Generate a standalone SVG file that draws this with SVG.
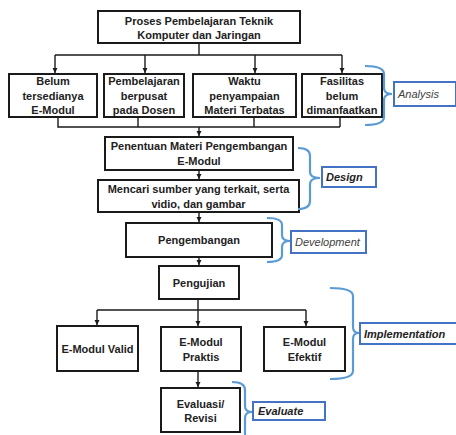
<svg xmlns="http://www.w3.org/2000/svg" width="456" height="435" viewBox="0 0 456 435">
<style>
.box{fill:#fff;stroke:#1a1a1a;stroke-width:2}
.t{font-family:"Liberation Sans",Arial,sans-serif;font-size:11px;font-weight:bold;fill:#222;text-anchor:middle}
.c{fill:none;stroke:#1a1a1a;stroke-width:1.4}
.br{fill:none;stroke:#5b9bd5;stroke-width:2.2}
.lb{fill:#fff;stroke:#4472c4;stroke-width:2}
.lt{font-family:"Liberation Sans",Arial,sans-serif;font-size:11px;font-style:italic;fill:#404040}
.lt.b{font-weight:bold;fill:#222}
</style>
<defs>
<marker id="ah" markerWidth="6" markerHeight="6" refX="5" refY="3" orient="auto" markerUnits="userSpaceOnUse">
<path d="M0,0.5 L5,3 L0,5.5 Z" fill="#1a1a1a"/>
</marker>
</defs>
<rect width="456" height="435" fill="#fff"/>
<g id="connectors">
<path class="c" d="M199,43 V55 M55,55 H342"/>
<path class="c" d="M55,55 V73" marker-end="url(#ah)"/>
<path class="c" d="M145,55 V73" marker-end="url(#ah)"/>
<path class="c" d="M255,55 V73" marker-end="url(#ah)"/>
<path class="c" d="M342,55 V73" marker-end="url(#ah)"/>
<path class="c" d="M58,117 V127 H340 M138,117 V127 M254,117 V127 M340,117 V127"/>
<path class="c" d="M199,127 V136" marker-end="url(#ah)"/>
<path class="c" d="M199,170 V179" marker-end="url(#ah)"/>
<path class="c" d="M199,212 V222" marker-end="url(#ah)"/>
<path class="c" d="M199,257 V265" marker-end="url(#ah)"/>
<path class="c" d="M198,299 V310 M97,310 H306"/>
<path class="c" d="M97,310 V325" marker-end="url(#ah)"/>
<path class="c" d="M198,310 V326" marker-end="url(#ah)"/>
<path class="c" d="M306,310 V326" marker-end="url(#ah)"/>
<path class="c" d="M198,371 V387" marker-end="url(#ah)"/>
</g>
<g id="n-proses"><rect class="box" x="98" y="11" width="202" height="32"/><text class="t" x="199" y="25">Proses Pembelajaran Teknik</text><text class="t" x="199" y="39">Komputer dan Jaringan</text></g>
<g id="n-belum"><rect class="box" x="9" y="74" width="88" height="43"/><text class="t" x="53" y="85">Belum</text><text class="t" x="53" y="100">tersedianya</text><text class="t" x="53" y="114">E-Modul</text></g>
<g id="n-dosen"><rect class="box" x="104" y="74" width="80" height="43"/><text class="t" x="144" y="85">Pembelajaran</text><text class="t" x="144" y="100">berpusat</text><text class="t" x="144" y="114">pada Dosen</text></g>
<g id="n-waktu"><rect class="box" x="193" y="74" width="103" height="43"/><text class="t" x="244.5" y="85">Waktu</text><text class="t" x="244.5" y="100">penyampaian</text><text class="t" x="244.5" y="114">Materi Terbatas</text></g>
<g id="n-fasilitas"><rect class="box" x="302" y="74" width="80" height="43"/><text class="t" x="342" y="85">Fasilitas</text><text class="t" x="342" y="100">belum</text><text class="t" x="342" y="114">dimanfaatkan</text></g>
<g id="n-penentuan"><rect class="box" x="105" y="137" width="188" height="33"/><text class="t" x="199" y="150">Penentuan Materi Pengembangan</text><text class="t" x="199" y="165">E-Modul</text></g>
<g id="n-mencari"><rect class="box" x="98" y="180" width="201" height="32"/><text class="t" x="198.5" y="193">Mencari sumber yang terkait, serta</text><text class="t" x="198.5" y="208">vidio, dan gambar</text></g>
<g id="n-pengembangan"><rect class="box" x="126" y="223" width="146" height="34"/><text class="t" x="199" y="244">Pengembangan</text></g>
<g id="n-pengujian"><rect class="box" x="159" y="266" width="80" height="33"/><text class="t" x="199" y="287">Pengujian</text></g>
<g id="n-valid"><rect class="box" x="57" y="326" width="81" height="45"/><text class="t" x="97.5" y="353">E-Modul Valid</text></g>
<g id="n-praktis"><rect class="box" x="161" y="327" width="80" height="44"/><text class="t" x="201" y="346">E-Modul</text><text class="t" x="201" y="361">Praktis</text></g>
<g id="n-efektif"><rect class="box" x="264" y="327" width="81" height="44"/><text class="t" x="304.5" y="346">E-Modul</text><text class="t" x="304.5" y="361">Efektif</text></g>
<g id="n-evaluasi"><rect class="box" x="161" y="388" width="79" height="44"/><text class="t" x="200.5" y="408">Evaluasi/</text><text class="t" x="200.5" y="422">Revisi</text></g>
<g id="l-analysis"><path class="br" d="M365,66 Q384,66 384,74 L384,88 Q384,94 392,94 Q384,94 384,100 L384,117 Q384,125 365,125"/><rect class="lb" x="394" y="82" width="62" height="24"/><text class="lt" x="398" y="98">Analysis</text></g>
<g id="l-design"><path class="br" d="M298,148 Q310,148 310,156 L310,172 Q310,178 320,178 Q310,178 310,184 L310,201 Q310,209 298,209"/><rect class="lb" x="322" y="167" width="54" height="20"/><text class="lt b" x="326" y="181">Design</text></g>
<g id="l-development"><path class="br" d="M267,218 Q282,218 282,225 L282,235 Q282,241 290,241 Q282,241 282,247 L282,255 Q282,262 267,262"/><rect class="lb" x="291" y="231" width="75" height="22"/><text class="lt" x="295" y="246">Development</text></g>
<g id="l-implementation"><path class="br" d="M330,288 Q353,288 353,296 L353,327 Q353,333 359,333 Q353,333 353,339 L353,371 Q353,379 330,379"/><rect class="lb" x="360" y="323" width="100" height="21"/><text class="lt b" x="364" y="338">Implementation</text></g>
<g id="l-evaluate"><path class="br" d="M232,382 Q245,382 245,390 L245,406 Q245,412 252,412 Q245,412 245,418 L245,436"/><rect class="lb" x="253" y="402" width="72" height="18"/><text class="lt b" x="258" y="415">Evaluate</text></g>
</svg>
